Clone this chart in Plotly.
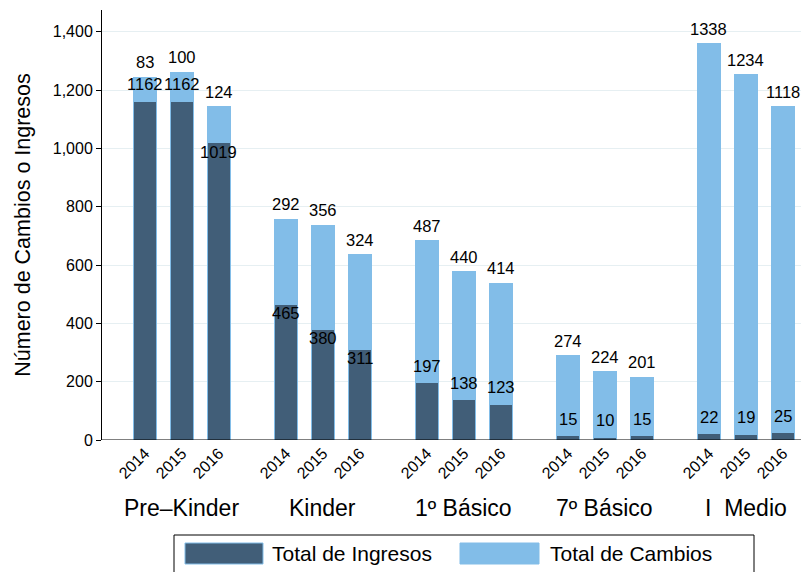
import plotly.graph_objects as go

groups = ["Pre\u2013Kinder", "Kinder", "1\u00ba B\u00e1sico", "7\u00ba B\u00e1sico", "I  Medio"]
years = ["2014", "2015", "2016"]
ingresos = [[1162, 1162, 1019], [465, 380, 311], [197, 138, 123], [15, 10, 15], [22, 19, 25]]
cambios = [[83, 100, 124], [292, 356, 324], [487, 440, 414], [274, 224, 201], [1338, 1234, 1118]]

DARK = "#415e78"
LIGHT = "#82bde8"
FONT = "Liberation Sans, Arial, sans-serif"

group_pitch = 141 / 37.0
xs, ing, cam, ticktext = [], [], [], []
for g in range(len(groups)):
    for j in range(len(years)):
        xs.append(g * group_pitch + j)
        ing.append(ingresos[g][j])
        cam.append(cambios[g][j])
        ticktext.append(years[j])

fig = go.Figure()
fig.add_trace(go.Bar(x=xs, y=ing, marker=dict(color=DARK, line=dict(color=LIGHT, width=1)),
                     width=0.6, name="Total de Ingresos", showlegend=False))
fig.add_trace(go.Bar(x=xs, y=cam, marker=dict(color=LIGHT, line=dict(color=LIGHT, width=1)),
                     width=0.6, name="Total de Cambios", showlegend=False))

ann = []
for x, a, c in zip(xs, ing, cam):
    ann.append(dict(x=x, y=a + c, text=str(c), showarrow=False, yshift=15,
                    font=dict(size=16.5, color="black", family=FONT)))
    above = a < 250 or c < 110
    ann.append(dict(x=x, y=a, text=str(a), showarrow=False, yshift=(17 if above else -9),
                    font=dict(size=16.5, color="black", family=FONT)))

# figure sits at (8, 8) in the page; plot area in page px: x 102..805, y 10..440
OFF = 8
PL, PR, PT, PB = 102, 805, 10, 440

def py(p):
    return (PB - p) / float(PB - PT)

def px(p):
    return (p - PL) / float(PR - PL)

for g, name in enumerate(groups):
    ann.append(dict(x=g * group_pitch + 1, y=py(508), xref="x", yref="paper", yanchor="middle",
                    text=name, showarrow=False, font=dict(size=23, color="black", family=FONT)))

shapes = [
    dict(type="rect", xref="paper", yref="paper", x0=px(174), x1=px(754), y0=py(600), y1=py(535),
         line=dict(color="black", width=1), fillcolor="white", layer="above"),
    dict(type="rect", xref="paper", yref="paper", x0=px(185), x1=px(263), y0=py(564), y1=py(543),
         line=dict(color=LIGHT, width=1), fillcolor=DARK, layer="above"),
    dict(type="rect", xref="paper", yref="paper", x0=px(460), x1=px(539), y0=py(564), y1=py(543),
         line=dict(color=LIGHT, width=1), fillcolor=LIGHT, layer="above"),
]
ann.append(dict(x=px(270), y=py(553), xref="paper", yref="paper", xanchor="left", yanchor="middle",
                text="Total de Ingresos", showarrow=False, font=dict(size=21, color="black", family=FONT)))
ann.append(dict(x=px(548), y=py(553), xref="paper", yref="paper", xanchor="left", yanchor="middle",
                text="Total de Cambios", showarrow=False, font=dict(size=21, color="black", family=FONT)))

fig.update_layout(
    barmode="stack",
    width=809, height=572,
    margin=dict(l=PL - OFF, r=809 - (PR - OFF), t=PT - OFF, b=572 - (PB - OFF)),
    plot_bgcolor="white", paper_bgcolor="white",
    font=dict(family=FONT, color="black", size=14),
    annotations=ann, shapes=shapes,
    showlegend=False,
    xaxis=dict(range=[-1.16, 17.84], tickmode="array", tickvals=xs, ticktext=ticktext,
               tickangle=-45, showgrid=False, zeroline=False, showline=False, ticks="",
               tickfont=dict(size=16, family=FONT), automargin=False),
    yaxis=dict(range=[0, 1475], tickvals=[0, 200, 400, 600, 800, 1000, 1200, 1400], tickformat=",",
               showgrid=True, gridcolor="#e6eff2", gridwidth=1, zeroline=False,
               showline=True, linecolor="black", linewidth=1, ticks="outside", ticklen=5,
               tickcolor="black", tickfont=dict(size=16, family=FONT), automargin=False,
               title=dict(text="N\u00famero de Cambios o Ingresos", font=dict(size=21.5, family=FONT), standoff=16)),
)
fig.add_hline(y=0, line=dict(color="black", width=1))

fig.write_html("out.html")
